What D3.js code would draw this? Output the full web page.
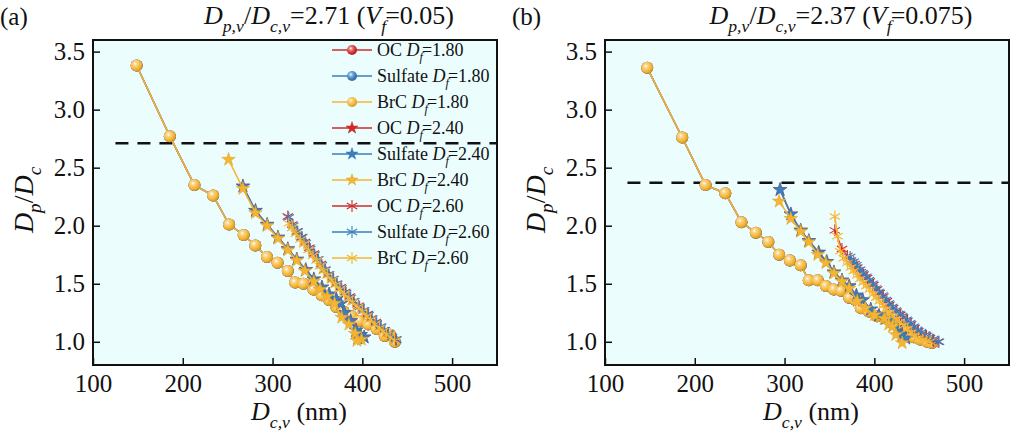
<!DOCTYPE html>
<html lang="en">
<head>
<meta charset="UTF-8">
<title>Dp/Dc versus Dc,v</title>
<script src="https://d3js.org/d3.v7.min.js"></script>
<style>
    body, html { margin: 0; padding: 0; overflow: hidden; background: #fff; }
    svg { display: block; font-family: "Liberation Serif", "Times New Roman", serif; }
    .tick text { font-family: "Liberation Serif", "Times New Roman", serif; font-size: 25px; fill: #111; }
    .tick line { stroke: #111; stroke-width: 1.5px; }
</style>
</head>
<body>
<svg id="chart" width="1013" height="439"></svg>
<script>
// axis settings
const xTicks = [100, 200, 300, 400, 500];
const yTicks = [1.0, 1.5, 2.0, 2.5, 3.0, 3.5];
const xDomain = [100, 550];
const yDomain = [0.8, 3.6];

// legend entries (material, fractal dimension)
const materials = ["OC", "Sulfate", "BrC"];
const fractalDims = ["1.80", "2.40", "2.60"];

// reference lines Dp,v/Dc,v
const refRatio = [2.71, 2.37];
const volFrac = ["0.05", "0.075"];

// ---- panel (a), Vf = 0.05 : [Dc,v (nm), Dp/Dc]
const a_OC_180 = [[148.6,3.38],[185.6,2.77],[213,2.35],[233.8,2.26],[251.6,2.01],[267.8,1.92],[280.8,1.83],[293.8,1.73],[305.6,1.68],[317,1.61],[325.2,1.51],[334.5,1.50],[345.6,1.45],[354.8,1.40],[363,1.36],[371,1.30],[379,1.26],[388,1.22],[397,1.18],[406.7,1.15],[416,1.11],[425,1.05],[431,1.06],[436.3,1.00]];
const a_Sul_180 = [[148.6,3.38],[185.6,2.77],[213,2.35],[233.8,2.26],[251.6,2.01],[267.8,1.92],[280.8,1.83],[293.8,1.73],[305.6,1.68],[317,1.61],[325.2,1.51],[334.5,1.50],[345.6,1.45],[354.8,1.40],[363,1.36],[371,1.30],[379,1.26],[388,1.22],[397,1.18],[406.7,1.15],[416,1.11],[425,1.05],[431,1.06],[436.3,1.00]];
const a_BrC_180 = [[148.6,3.38],[185.6,2.77],[213,2.35],[233.8,2.26],[251.6,2.01],[267.8,1.92],[280.8,1.83],[293.8,1.73],[305.6,1.68],[317,1.61],[325.2,1.51],[334.5,1.50],[345.6,1.45],[354.8,1.40],[363,1.36],[371,1.30],[379,1.26],[388,1.22],[397,1.18],[406.7,1.15],[416,1.11],[425,1.05],[431,1.06],[436.3,1.00]];
const a_OC_240 = [[267,2.34],[281,2.13],[294,2.01],[306,1.90],[317,1.80],[327,1.71],[337,1.62],[346,1.54],[355,1.47],[363,1.41],[371,1.37],[376,1.33],[380,1.25],[387,1.18],[393,1.10],[398,1.06],[402,1.04],[395,1.03]];
const a_Sul_240 = [[267,2.34],[281,2.13],[294,2.01],[306,1.90],[317,1.80],[327,1.71],[337,1.62],[346,1.54],[355,1.47],[363,1.41],[371,1.37],[376,1.33],[380,1.25],[387,1.18],[393,1.10],[398,1.06],[402,1.04],[395,1.03]];
const a_BrC_240 = [[251,2.57],[267,2.32],[281,2.11],[294,2.00],[306,1.89],[317,1.79],[327,1.70],[336,1.61],[346,1.52],[353,1.45],[361,1.39],[369,1.33],[377,1.21],[385,1.15],[392,1.07],[399,1.02],[394,1.01]];
const a_OC_260 = [[317,2.08],[322,2.01],[327,1.95],[332,1.90],[336,1.86],[341,1.81],[346,1.76],[350,1.71],[354,1.67],[358,1.62],[362,1.58],[367,1.54],[371,1.50],[376,1.47],[381,1.43],[386,1.39],[390,1.35],[396,1.31],[401,1.27],[406,1.24],[410,1.20],[415,1.17],[420,1.13],[424,1.10],[428,1.07],[432,1.04],[437,1.02]];
const a_Sul_260 = [[318,2.07],[323,2.00],[328,1.95],[333,1.90],[337,1.85],[342,1.80],[347,1.75],[351,1.71],[355,1.66],[359,1.62],[363,1.58],[368,1.54],[372,1.50],[377,1.46],[382,1.42],[387,1.38],[391,1.35],[397,1.30],[402,1.27],[407,1.23],[411,1.20],[416,1.16],[421,1.13],[425,1.10],[429,1.07],[433,1.04],[438,1.02]];
const a_BrC_260 = [[318,2.02],[322,1.98],[326,1.93],[331,1.88],[335,1.84],[340,1.79],[345,1.74],[349,1.70],[353,1.65],[357,1.61],[361,1.57],[366,1.53],[370,1.49],[375,1.45],[380,1.41],[385,1.37],[389,1.34],[395,1.30],[400,1.26],[405,1.22],[409,1.19],[414,1.15],[419,1.12],[423,1.09],[427,1.06],[431,1.04],[436,1.01]];

// ---- panel (b), Vf = 0.075
const b_OC_180 = [[147,3.36],[186,2.76],[212,2.35],[234,2.28],[252,2.03],[268,1.94],[282,1.86],[294,1.75],[306,1.70],[318,1.66],[327,1.53],[337,1.53],[346,1.48],[355,1.45],[363,1.44],[372,1.38],[379,1.36],[385,1.29],[394,1.26],[403,1.22],[413,1.20],[420,1.16],[429,1.13],[437,1.11],[444,1.04],[451,1.02],[459,1.00],[464,0.99]];
const b_Sul_180 = [[147,3.36],[186,2.76],[212,2.35],[234,2.28],[252,2.03],[268,1.94],[282,1.86],[294,1.75],[306,1.70],[318,1.66],[327,1.53],[337,1.53],[346,1.48],[355,1.45],[363,1.44],[372,1.38],[379,1.36],[385,1.29],[394,1.26],[403,1.22],[413,1.20],[420,1.16],[429,1.13],[437,1.11],[444,1.04],[451,1.02],[459,1.00],[464,0.99]];
const b_BrC_180 = [[147,3.36],[186,2.76],[212,2.35],[234,2.28],[252,2.03],[268,1.94],[282,1.86],[294,1.75],[306,1.70],[318,1.66],[327,1.53],[337,1.53],[346,1.48],[355,1.45],[363,1.44],[372,1.38],[379,1.36],[385,1.29],[394,1.26],[403,1.22],[413,1.20],[420,1.16],[429,1.13],[437,1.11],[444,1.04],[451,1.02],[459,1.00],[464,0.99]];
const b_OC_240 = [[295,2.31],[307,2.10],[318,1.96],[327,1.87],[338,1.77],[347,1.69],[355,1.60],[364,1.53],[372,1.48],[380,1.40],[387,1.36],[396,1.28],[405,1.23],[412,1.20],[419,1.18],[426,1.12],[431,1.06],[435,1.03]];
const b_Sul_240 = [[295,2.31],[307,2.10],[318,1.96],[327,1.87],[338,1.77],[347,1.69],[355,1.60],[364,1.53],[372,1.48],[380,1.40],[387,1.36],[396,1.28],[405,1.23],[412,1.20],[419,1.18],[426,1.12],[431,1.06],[435,1.03]];
const b_BrC_240 = [[294,2.21],[307,2.06],[318,1.95],[327,1.86],[337,1.75],[346,1.68],[355,1.59],[364,1.52],[372,1.46],[381,1.35],[390,1.29],[400,1.23],[411,1.20],[416,1.15],[420,1.13],[424,1.06],[431,0.99]];
const b_OC_260 = [[356,1.96],[364,1.80],[370,1.74],[374,1.70],[378,1.67],[381,1.64],[385,1.60],[388,1.58],[392,1.55],[395,1.52],[399,1.49],[403,1.45],[406,1.42],[410,1.39],[414,1.35],[417,1.32],[421,1.29],[425,1.26],[429,1.23],[432,1.21],[437,1.18],[441,1.15],[445,1.12],[449,1.09],[453,1.07],[458,1.05],[462,1.03],[466,1.01],[471,1.00]];
const b_Sul_260 = [[373,1.73],[377,1.69],[380,1.66],[384,1.62],[387,1.59],[391,1.56],[394,1.53],[398,1.50],[402,1.46],[405,1.43],[409,1.40],[413,1.36],[416,1.33],[420,1.30],[424,1.27],[428,1.24],[431,1.22],[436,1.19],[440,1.16],[444,1.13],[448,1.10],[452,1.08],[457,1.06],[461,1.04],[465,1.02],[472,1.00]];
const b_BrC_260 = [[356,2.08],[359,1.91],[362,1.78],[366,1.72],[370,1.68],[374,1.64],[377,1.61],[381,1.57],[384,1.54],[388,1.51],[391,1.48],[395,1.45],[399,1.41],[402,1.38],[406,1.35],[410,1.31],[413,1.28],[417,1.25],[421,1.22],[425,1.19],[428,1.17],[433,1.14],[437,1.11],[441,1.08],[445,1.05],[449,1.03],[454,1.02],[458,1.01],[462,1.00]];

const colors = { OC: "#d3292b", Sulfate: "#3b7dbd", BrC: "#f6b530" };
const shapes = { "1.80": "ball", "2.40": "star", "2.60": "asterisk" };

const panelA = [a_OC_180, a_Sul_180, a_BrC_180, a_OC_240, a_Sul_240, a_BrC_240, a_OC_260, a_Sul_260, a_BrC_260];
const panelB = [b_OC_180, b_Sul_180, b_BrC_180, b_OC_240, b_Sul_240, b_BrC_240, b_OC_260, b_Sul_260, b_BrC_260];

const svg = d3.select("#chart");
const W = 404, H = 325, plotTop = 40;
const serif = '"Liberation Serif", "Times New Roman", serif';

// shiny ball gradients
const defs = svg.append("defs");
Object.entries(colors).forEach(([k, c]) => {
    const g = defs.append("radialGradient").attr("id", "ball-" + k)
        .attr("cx", "0.38").attr("cy", "0.35").attr("r", "0.7");
    g.append("stop").attr("offset", "0%").attr("stop-color", "#fff");
    g.append("stop").attr("offset", "22%").attr("stop-color", d3.interpolateRgb(c, "#fff")(0.45));
    g.append("stop").attr("offset", "65%").attr("stop-color", c);
    g.append("stop").attr("offset", "100%").attr("stop-color", d3.color(c).darker(0.6));
});

// write text with italic parts and subscripts
function rich(sel, parts, size) {
    let shift = 0;
    parts.forEach(p => {
        const t = sel.append("tspan").text(p[0]);
        const isSub = p[1] && p[1].includes("s");
        if (p[1] && p[1].includes("i")) t.attr("font-style", "italic");
        const want = isSub ? size * 0.3 : 0;
        if (want !== shift) { t.attr("dy", want - shift); shift = want; }
        if (isSub) t.attr("font-size", size * 0.68);
        if (p[2]) t.attr("dx", p[2]);
    });
    return sel;
}

function marker(g, shape, mat, r) {
    const c = colors[mat];
    if (shape === "ball") {
        g.append("circle").attr("r", r).attr("fill", `url(#ball-${mat})`);
    } else if (shape === "star") {
        g.append("path").attr("d", d3.symbol(d3.symbolStar, r * r * 1.25)())
            .attr("fill", c).attr("stroke", d3.color(c).darker(0.3)).attr("stroke-width", 0.5);
    } else {
        [90, 30, -30].forEach(a => {
            const rad = a * Math.PI / 180;
            g.append("line")
                .attr("x1", -r * Math.cos(rad)).attr("y1", -r * Math.sin(rad))
                .attr("x2", r * Math.cos(rad)).attr("y2", r * Math.sin(rad))
                .attr("stroke", c).attr("stroke-width", 1.1);
        });
    }
}

function drawPanel(left, series, ratio, vf, tag, withLegend) {
    const x = d3.scaleLinear().domain(xDomain).range([0, W]);
    const y = d3.scaleLinear().domain(yDomain).range([H, 0]);
    const g = svg.append("g").attr("transform", `translate(${left},${plotTop})`);

    g.append("rect").attr("width", W).attr("height", H).attr("fill", "#ebfdfd");

    g.append("g").attr("transform", `translate(0,${H})`)
        .call(d3.axisBottom(x).tickValues(xTicks).tickSizeInner(-7).tickSizeOuter(0).tickPadding(9))
        .attr("font-family", serif).attr("font-size", 25)
        .call(a => a.select(".domain").remove());
    g.append("g")
        .call(d3.axisLeft(y).tickValues(yTicks).tickFormat(d3.format(".1f")).tickSizeInner(-7).tickSizeOuter(0).tickPadding(8))
        .attr("font-family", serif).attr("font-size", 25)
        .call(a => a.select(".domain").remove());

    // reference line
    g.append("line")
        .attr("x1", x(125)).attr("x2", x(550))
        .attr("y1", y(ratio)).attr("y2", y(ratio))
        .attr("stroke", "#111").attr("stroke-width", 2.6).attr("stroke-dasharray", "13,9");

    const line = d3.line().x(d => x(d[0])).y(d => y(d[1]));
    const markR = { ball: 6, star: 6.8, asterisk: 6 };

    series.forEach((data, i) => {
        const mat = materials[i % 3];
        const df = fractalDims[Math.floor(i / 3)];
        const shape = shapes[df];
        const sg = g.append("g");
        sg.append("path").attr("d", line(data)).attr("fill", "none")
            .attr("stroke", colors[mat]).attr("stroke-width", 1.5);
        sg.selectAll("g.pt").data(data).join("g").attr("class", "pt")
            .attr("transform", d => `translate(${x(d[0])},${y(d[1])})`)
            .each(function () { marker(d3.select(this), shape, mat, markR[shape]); });
    });

    // frame
    g.append("rect").attr("width", W).attr("height", H).attr("fill", "none")
        .attr("stroke", "#111").attr("stroke-width", 2);

    if (withLegend) {
        const lg = g.append("g").attr("transform", `translate(${239},${10})`);
        series.forEach((_, i) => {
            const mat = materials[i % 3];
            const df = fractalDims[Math.floor(i / 3)];
            const row = lg.append("g").attr("transform", `translate(0,${i * 26})`);
            row.append("line").attr("x1", 0).attr("x2", 40)
                .attr("stroke", colors[mat]).attr("stroke-width", 1.5);
            const mg = row.append("g").attr("transform", "translate(20,0)");
            marker(mg, shapes[df], mat, shapes[df] === "ball" ? 5 : 6);
            rich(row.append("text").attr("x", 45).attr("y", 6).attr("font-size", 18).attr("fill", "#111"),
                [[mat + " "], ["D", "i"], ["f", "is"], ["=" + df, "", -1]], 18);
        });
    }

    // panel tag and title
    svg.append("text").attr("x", left - 93).attr("y", 25).attr("font-size", 25).attr("fill", "#111").text(tag);
    rich(svg.append("text").attr("x", left + 236).attr("y", 24).attr("font-size", 26)
        .attr("text-anchor", "middle").attr("fill", "#111"),
        [["D", "i"], ["p,v", "is"], ["/"], ["D", "i"], ["c,v", "is"], ["=" + ratio.toFixed(2) + " ("], ["V", "i"], ["f", "is"], ["=" + vf + ")", "", -1]], 26);

    // axis titles
    rich(svg.append("text").attr("transform", `translate(${left - 60},${plotTop + 160}) rotate(-90)`)
        .attr("text-anchor", "middle").attr("font-size", 28).attr("fill", "#111"),
        [["D", "i"], ["p", "is"], ["/"], ["D", "i"], ["c", "is"]], 28);
    rich(svg.append("text").attr("x", left + 206).attr("y", 420)
        .attr("text-anchor", "middle").attr("font-size", 26).attr("fill", "#111"),
        [["D", "i"], ["c,v", "is"], [" (nm)"]], 26);
}

drawPanel(93, panelA, refRatio[0], volFrac[0], "(a)", true);
drawPanel(605, panelB, refRatio[1], volFrac[1], "(b)", false);
</script>
</body>
</html>
